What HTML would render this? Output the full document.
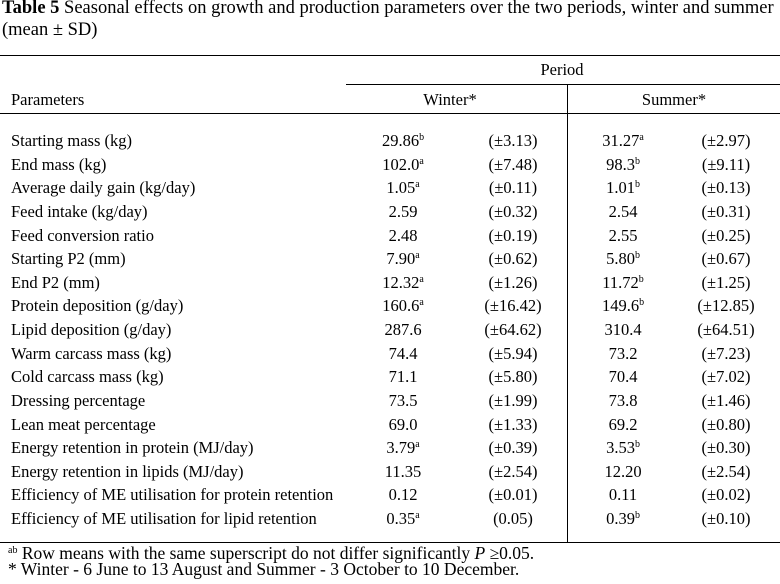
<!DOCTYPE html>
<html><head><meta charset="utf-8"><style>
html,body{margin:0;padding:0;background:#fff;}
body{width:780px;height:584px;position:relative;overflow:hidden;font-family:"Liberation Serif",serif;color:#000;font-size:16.5px;}
.t{position:absolute;white-space:nowrap;line-height:1;}
.c{transform:translateX(-50%);}
.hl{position:absolute;height:1px;background:#000;}
sup{font-size:10px;vertical-align:0;position:relative;top:-6px;}
</style></head><body>
<div class="t" style="left:2px;top:-1px;font-size:18.5px;"><b>Table 5</b> Seasonal effects on growth and production parameters over the two periods, winter and summer</div>
<div class="t" style="left:2px;top:21px;font-size:18.5px;">(mean ± SD)</div>
<div class="hl" style="left:0;width:780px;top:55px;"></div>
<div class="t c" style="left:562px;top:62px;">Period</div>
<div class="hl" style="left:346px;width:434px;top:84px;"></div>
<div class="t" style="left:11px;top:92px;">Parameters</div>
<div class="t c" style="left:450px;top:92px;">Winter*</div>
<div class="t c" style="left:674px;top:92px;">Summer*</div>
<div class="hl" style="left:0;width:780px;top:113px;"></div>
<div style="position:absolute;left:567px;top:84px;width:1px;height:458px;background:#000;"></div>
<div id="rows"></div>
<div class="hl" style="left:0;width:780px;top:542px;"></div>
<div class="t" style="left:8px;top:545px;font-size:17.5px;"><sup>ab</sup> Row means with the same superscript do not differ significantly <i>P</i> ≥0.05.</div>
<div class="t" style="left:8px;top:561px;font-size:17.5px;">* Winter - 6 June to 13 August and Summer - 3 October to 10 December.</div>
<script>
const params=["Starting mass (kg)","End mass (kg)","Average daily gain (kg/day)","Feed intake (kg/day)","Feed conversion ratio","Starting P2 (mm)","End P2 (mm)","Protein deposition (g/day)","Lipid deposition (g/day)","Warm carcass mass (kg)","Cold carcass mass (kg)","Dressing percentage","Lean meat percentage","Energy retention in protein (MJ/day)","Energy retention in lipids (MJ/day)","Efficiency of ME utilisation for protein retention","Efficiency of ME utilisation for lipid retention"];
const winterMean=["29.86","102.0","1.05","2.59","2.48","7.90","12.32","160.6","287.6","74.4","71.1","73.5","69.0","3.79","11.35","0.12","0.35"];
const winterSup=["b","a","a","","","a","a","a","","","","","","a","","","a"];
const winterSD=["(±3.13)","(±7.48)","(±0.11)","(±0.32)","(±0.19)","(±0.62)","(±1.26)","(±16.42)","(±64.62)","(±5.94)","(±5.80)","(±1.99)","(±1.33)","(±0.39)","(±2.54)","(±0.01)","(0.05)"];
const summerMean=["31.27","98.3","1.01","2.54","2.55","5.80","11.72","149.6","310.4","73.2","70.4","73.8","69.2","3.53","12.20","0.11","0.39"];
const summerSup=["a","b","b","","","b","b","b","","","","","","b","","","b"];
const summerSD=["(±2.97)","(±9.11)","(±0.13)","(±0.31)","(±0.25)","(±0.67)","(±1.25)","(±12.85)","(±64.51)","(±7.23)","(±7.02)","(±1.46)","(±0.80)","(±0.30)","(±2.54)","(±0.02)","(±0.10)"];
const root=document.getElementById('rows');
function cell(txt,left,center,top,name){
  const d=document.createElement('div');
  d.className='t'+(center?' c':'');
  d.style.left=left+'px';d.style.top=top+'px';
  d.innerHTML=txt;
  
  
  root.appendChild(d);
}
params.forEach((p,i)=>{
  const y=133+i*23.63;
  cell(p,11,false,y,'parameter-label');
  cell(winterMean[i]+(winterSup[i]?'<sup>'+winterSup[i]+'</sup>':''),403,true,y,'winter-mean');
  cell(winterSD[i],513,true,y,'winter-sd');
  cell(summerMean[i]+(summerSup[i]?'<sup>'+summerSup[i]+'</sup>':''),623,true,y,'summer-mean');
  cell(summerSD[i],726,true,y,'summer-sd');
});
</script>
</body></html>
